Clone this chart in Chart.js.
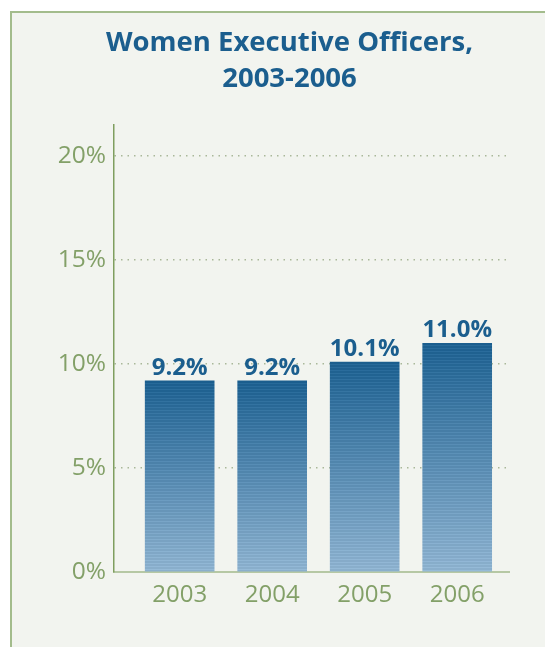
<!DOCTYPE html>
<html>
<head>
<meta charset="utf-8">
<script src="https://cdn.jsdelivr.net/npm/chart.js@4.4.1/dist/chart.umd.min.js"></script>
<style>
  html, body { margin: 0; padding: 0; background: #fff; }
  #wrap { position: relative; width: 545px; height: 647px; }
  #panel {
    position: absolute; left: 10px; top: 11px; right: 0; bottom: 0;
    background: #f2f4ef;
    border-left: 2px solid #a3bc8c;
    border-top: 2px solid #a3bc8c;
  }
  #chart { position: absolute; left: 0; top: 0; }
</style>
</head>
<body>
<div id="wrap">
  <div id="panel"></div>
  <canvas id="chart" width="545" height="647"></canvas>
</div>
<script>
// share of executive officer posts held by women, per year
const years = [2003, 2004, 2005, 2006];
const womenShare = [9.2, 9.2, 10.1, 11.0];
const yTicks = [0, 5, 10, 15, 20];

const BLUE = '#1b5e8e';
const GREEN = '#83a068';

Chart.defaults.font.family = '"Open Sans", "DejaVu Sans", sans-serif';

// vertical gradient with thin horizontal stripes, dark at the top of each bar
function barFill(ctx) {
  const chart = ctx.chart;
  if (!chart.chartArea || !ctx.raw) return BLUE;
  const yScale = chart.scales.y;
  const top = yScale.getPixelForValue(ctx.raw.y);
  const base = yScale.getPixelForValue(0);
  const h = base - top;
  const g = chart.ctx.createLinearGradient(0, top, 0, base);
  const dark = [27, 94, 142];
  const light = [140, 176, 205];
  const mix = (t, lift) => {
    const c = dark.map((d, k) => Math.round(d + (light[k] - d) * t + lift));
    return `rgb(${c[0]},${c[1]},${c[2]})`;
  };
  for (let r = 0; r < h; r += 3) {
    const t = r / h;
    const a = r / h, b = Math.min((r + 2) / h, 1), c = Math.min((r + 3) / h, 1);
    g.addColorStop(a, mix(t, 0));
    g.addColorStop(b, mix(t, 0));
    g.addColorStop(b, mix(t, 12));
    g.addColorStop(c, mix(t, 12));
  }
  return g;
}

// percentage printed above each bar
const valueLabels = {
  id: 'valueLabels',
  afterDatasetsDraw(chart) {
    const { ctx } = chart;
    const meta = chart.getDatasetMeta(0);
    ctx.save();
    ctx.font = 'bold 24px "Open Sans"';
    ctx.fillStyle = BLUE;
    ctx.textAlign = 'center';
    ctx.textBaseline = 'alphabetic';
    meta.data.forEach((bar, i) => {
      ctx.fillText(womenShare[i].toFixed(1) + '%', bar.x, bar.y - 6);
    });
    ctx.restore();
  }
};

new Chart(document.getElementById('chart'), {
  type: 'bar',
  data: {
    datasets: [{
      data: years.map((yr, i) => ({ x: yr, y: womenShare[i] })),
      backgroundColor: barFill,
      borderWidth: 0,
      barThickness: 69
    }]
  },
  options: {
    responsive: false,
    animation: false,
    layout: { padding: { left: 34 } },
    plugins: {
      legend: { display: false },
      tooltip: { enabled: false },
      title: {
        display: true,
        text: ['Women Executive Officers,', '2003-2006'],
        color: BLUE,
        font: { size: 27.5, weight: 'bold', lineHeight: 36 / 27.5 },
        padding: { top: 25, bottom: 28 }
      }
    },
    scales: {
      x: {
        type: 'linear',
        offset: false,
        min: 2002.29,
        max: 2006.56,
        afterBuildTicks: s => { s.ticks = years.map(v => ({ value: v })); },
        afterFit: s => { s.height = 75; },
        grid: { display: false },
        border: { color: '#b6c8a4', width: 2 },
        ticks: {
          color: GREEN,
          font: { size: 24 },
          padding: 1,
          callback: v => String(v)
        }
      },
      y: {
        min: 0,
        max: 21.5,
        afterBuildTicks: s => { s.ticks = yTicks.map(v => ({ value: v })); },
        afterFit: s => { s.width = 80; },
        grid: {
          color: c => (c.tick && c.tick.value === 0) ? 'rgba(0,0,0,0)' : '#a9b799',
          lineWidth: 1.5,
          drawTicks: false
        },
        border: { color: '#7f9e5f', width: 1.5, dash: [1.5, 5] },
        ticks: {
          color: GREEN,
          font: { size: 24.5 },
          padding: 8,
          callback: v => v + '%'
        }
      },
      // empty right-hand axis that only reserves the margin after the plot
      yRight: {
        position: 'right',
        afterFit: s => { s.width = 36; },
        grid: { display: false },
        border: { display: false },
        ticks: { display: false }
      }
    }
  },
  plugins: [valueLabels]
});
</script>
</body>
</html>
